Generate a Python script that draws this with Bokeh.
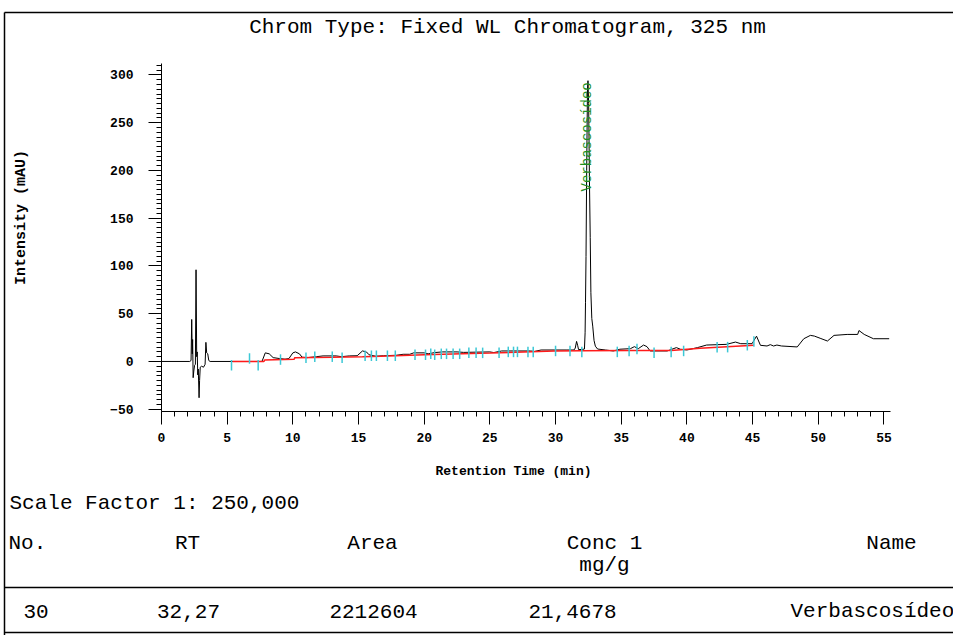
import math
from bokeh.plotting import figure
from bokeh.models import Range1d, SingleIntervalTicker
from bokeh.core.properties import value
from bokeh.embed import file_html
from bokeh.resources import INLINE

# ---------------- data ----------------
trace_t = [0, 2.15, 2.25, 2.3, 2.34, 2.37, 2.41, 2.46, 2.52, 2.58, 2.63, 2.68, 2.72, 2.76, 2.8,
           2.86, 2.9, 2.95, 3.05, 3.2, 3.32, 3.38, 3.44, 3.52, 3.6, 3.7,
           7.65, 7.9, 8.2, 8.5, 9.0, 9.4, 9.7, 10.0, 10.2, 10.5, 10.7, 11.1, 11.8, 12.3, 13.3,
           13.7, 14.3, 14.9, 15.3, 15.6, 15.8, 16.3, 16.9, 17.9, 18.4, 18.9, 19.2, 20.0, 20.3,
           20.8, 21.4, 22.5, 23.0, 25.0, 25.3, 25.9, 28.1, 28.4, 28.9, 29.9, 30.8, 31.4, 31.5,
           31.6, 31.68, 31.75, 32.0, 32.2, 32.25, 32.28, 32.32, 32.37, 32.43, 32.47, 32.52,
           32.58, 32.64, 32.69, 32.76, 32.83, 32.93, 33.03, 33.2, 33.8, 34.4, 34.9, 35.7, 36.0,
           36.3, 36.7, 36.96, 37.2, 38.5, 38.7, 39.2, 39.5, 40.0, 40.8, 41.5, 43.0, 43.7, 44.1,
           44.96, 45.3, 45.6, 46.1, 46.35, 46.6, 46.85, 47.2, 48.4, 48.9, 49.4, 49.7, 50.2,
           50.7, 51.2, 52.2, 53.0, 53.1, 53.5, 54.2, 55.4]
trace_mau = [0, 0, 1, 44, 8, 23, -17, -10, -4, -3, 96, 5, 10, -14, -8,
             -38, -20, -6, -5, -6, -3, 20, 9, 8, 1, 0,
             0, 9, 8, 4, 3, 2.4, 3, 9, 10, 8, 4.5, 4, 5, 5.8, 5.8,
             5, 5.8, 6, 11, 10, 7, 5.5, 6, 6.5, 7.5, 7.5, 9, 9, 8,
             9.3, 10, 10, 9.5, 10, 9.3, 11, 11, 10.5, 12, 12, 12, 12, 14,
             21, 17, 12.5, 12.5, 13, 30, 62, 110, 200, 285, 294, 270,
             190, 130, 72, 45, 37, 22, 16, 13, 12, 11, 12.8, 13.4, 15.5,
             13.4, 17.2, 15.5, 11, 11, 12, 14.5, 12.8, 12, 14.5, 17.2, 17.9, 20.3, 18.6,
             18.6, 26.5, 16.9, 16.2, 17.6, 16.2, 17.2, 16.2, 15.2, 23.8, 27.3, 26.6, 24,
             21.4, 27.3, 28.3, 28.3, 32.4, 28.3, 23.8, 23.8]

baseline_t = [5.4, 7.8, 7.85, 10.1, 10.15, 13.0, 15.3, 16.7, 20.0, 25.0, 29.9, 32.0,
              35.7, 38.8, 41.0, 45.1]
baseline_mau = [0, 0, 1.5, 2.2, 4, 4.5, 5, 5.5, 7, 8.8, 11, 11.2, 11.4, 11.4, 13.8, 17]

marker_t = [5.33, 6.7, 7.36, 9.06, 11.0, 11.67, 13.0, 13.75, 15.5, 15.98, 16.36, 17.2,
            17.8, 19.3, 20.1, 20.5, 20.8, 21.3, 21.7, 22.2, 22.7, 23.4, 23.95, 24.45,
            25.7, 26.4, 26.8, 27.1, 27.9, 28.3, 30.0, 31.1, 32.0, 34.7, 35.6, 36.2,
            37.5, 38.8, 39.75, 42.3, 43.1, 44.6, 45.1]
marker_mau = [-4, 3, -4, 2, 4, 5, 5, 4, 6, 6, 6, 6,
              6, 7, 7, 8, 7, 8, 8, 8, 8, 9, 9, 9,
              9, 10, 10, 10, 10, 10, 11, 11, 10, 10, 11, 13,
              9, 10, 11, 15, 15, 17, 21]

peak_rt = [32.42]
peak_label_mau = [178]
peak_names = ["Verbascosídeo"]

title_text = "Chrom Type: Fixed WL Chromatogram, 325 nm"
x_title = "Retention Time (min)"
y_title = "Intensity (mAU)"
scale_text = "Scale Factor 1: 250,000"
table_headers = ["No.", "RT", "Area", "Conc 1", "Name"]
table_units = ["", "", "", "mg/g", ""]
table_row = ["30", "32,27", "2212604", "21,4678", "Verbascosídeo"]

# ---------------- layout geometry (canvas pixels) ----------------
W, H = 953, 635
AX_L, AX_R, AX_T, AX_B = 161, 890, 63, 411     # plot area in canvas px
X0, X1 = 0.0, 55.5                              # time range of the x axis
Y0, Y1 = -52.4, 312.0                           # intensity range of the y axis
kx = (AX_R - AX_L) / (X1 - X0)
ky = (AX_B - AX_T) / (Y1 - Y0)

p = figure(width=W, height=H, output_backend="svg", toolbar_location=None,
           x_range=Range1d(X0 - AX_L / kx, X1 + (W - AX_R) / kx),
           y_range=Range1d(Y0 - (H - AX_B) / ky, Y1 + AX_T / ky),
           min_border=0, min_border_left=0, min_border_right=0,
           min_border_top=0, min_border_bottom=0,
           background_fill_color="white", border_fill_color="white")
p.extra_x_ranges = {"px_x": Range1d(0, W)}
p.extra_y_ranges = {"px_y": Range1d(H, 0)}
p.outline_line_color = None
p.grid.visible = False

mono = "Liberation Mono"

p.xaxis.ticker = SingleIntervalTicker(interval=5, num_minor_ticks=5)
p.yaxis.ticker = SingleIntervalTicker(interval=50, num_minor_ticks=10)
p.xaxis.fixed_location = Y0
p.yaxis.fixed_location = X0
p.xaxis.bounds = (X0, X1)
p.yaxis.bounds = (Y0, Y1)
for ax in (p.xaxis[0], p.yaxis[0]):
    ax.axis_line_color = "black"
    ax.major_tick_line_color = "black"
    ax.minor_tick_line_color = "black"
    ax.major_tick_in = 0
    ax.minor_tick_in = 0
    ax.major_tick_out = 13
    ax.minor_tick_out = 5
    ax.major_label_text_font = mono
    ax.major_label_text_font_style = "bold"
    ax.major_label_text_font_size = "13px"
    ax.major_label_text_color = "black"
p.xaxis.major_label_standoff = 8
p.yaxis.major_label_standoff = 15

# trace, baseline, markers
p.line(trace_t, trace_mau, line_color="black", line_width=1)
p.line(baseline_t, baseline_mau, line_color="#ff1a1a", line_width=1.5)
p.segment(x0=marker_t, y0=[v - 5.5 for v in marker_mau], x1=marker_t,
          y1=[v + 5.5 for v in marker_mau], line_color="#3cc8d6", line_width=1.5)
p.text(x=peak_rt, y=peak_label_mau, text=peak_names, angle=math.pi / 2,
       text_color="#1f8f1f", text_font=value(mono), text_font_size="14px",
       text_align="left", text_baseline="middle")


def lab(cx, cy, text, align="left", size="21px", bold=False, angle=0.0):
    p.text(x=[cx], y=[cy], text=[text], x_range_name="px_x", y_range_name="px_y",
           text_align=align, text_baseline="middle", text_font=value(mono),
           text_font_size=size, text_color="black", angle=angle,
           text_font_style="bold" if bold else "normal")


lab(507, 27, title_text, align="center")
lab(513, 471, x_title, align="center", size="13px", bold=True)
lab(21, 217, y_title, align="center", size="15px", bold=True, angle=math.pi / 2)
lab(9, 503, scale_text)

head_x = [8, 187, 372, 604, 891]
head_align = ["left", "center", "center", "center", "center"]
for hx, ha, h, u in zip(head_x, head_align, table_headers, table_units):
    lab(hx, 543, h, align=ha)
    if u:
        lab(hx, 565, u, align=ha)

row_x = [23, 188, 373, 572, 790]
row_align = ["left", "center", "center", "center", "left"]
for rx, ra, r in zip(row_x, row_align, table_row):
    lab(rx, 611, r, align=ra)

# page frame and table rules
p.segment(x0=[4, 4, 4, 4], y0=[12, 587, 632, 12], x1=[953, 953, 953, 4], y1=[12, 587, 632, 635],
          x_range_name="px_x", y_range_name="px_y", line_color="black", line_width=1.5)

open("out.html", "w").write(file_html(p, INLINE))
